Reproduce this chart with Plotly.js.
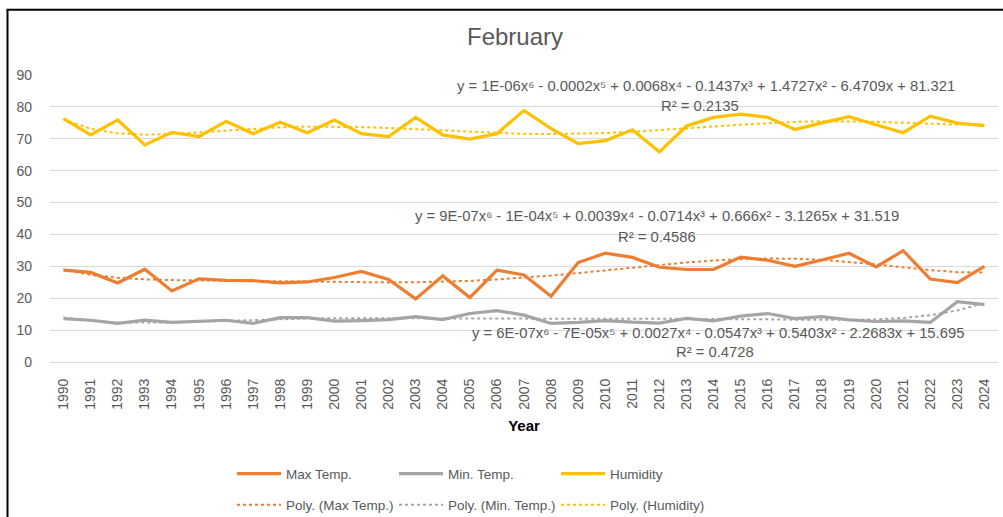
<!DOCTYPE html>
<html>
<head>
<meta charset="utf-8">
<script src="https://cdn.plot.ly/plotly-3.0.1.min.js"></script>
<style>html,body{margin:0;padding:0;background:#fff;}#chart{width:1003px;height:517px;}</style>
</head>
<body>
<div id="chart"></div>
<script>
// ---- Data ----
const years = ["1990","1991","1992","1993","1994","1995","1996","1997","1998","1999",
               "2000","2001","2002","2003","2004","2005","2006","2007","2008","2009",
               "2010","2011","2012","2013","2014","2015","2016","2017","2018","2019",
               "2020","2021","2022","2023","2024"];
const maxTemp = [28.8,28.1,24.8,29.1,22.3,26.1,25.6,25.5,24.8,25.1,
                 26.5,28.4,25.9,19.8,27.0,20.2,28.8,27.3,20.6,31.2,
                 34.1,32.8,29.7,29.0,29.0,32.9,31.9,30.0,32.0,34.1,
                 29.8,34.9,26.0,24.9,30.0];
const minTemp = [13.6,13.1,12.1,13.1,12.4,12.8,13.1,12.1,13.9,13.9,
                 12.8,13.0,13.3,14.2,13.3,15.2,16.1,14.7,12.1,12.4,
                 13.0,12.5,12.2,13.7,12.9,14.4,15.2,13.6,14.2,13.2,
                 12.7,12.9,12.4,18.9,18.0];
const humidity = [76.3,71.2,75.9,68.1,72.0,70.7,75.5,71.6,75.2,71.9,
                  75.9,71.6,70.7,76.7,71.2,69.9,71.6,78.9,73.2,68.5,
                  69.4,72.8,65.9,74.0,76.7,77.7,76.7,72.9,75.0,76.9,
                  74.4,71.9,77.1,74.9,74.1];
const seriesNames = ["Max Temp.","Min. Temp.","Humidity"];
const trendNames = ["Poly. (Max Temp.)","Poly. (Min. Temp.)","Poly. (Humidity)"];
const equations = [
  "y = 9E-07x⁶ - 1E-04x⁵ + 0.0039x⁴ - 0.0714x³ + 0.666x² - 3.1265x + 31.519",
  "y = 6E-07x⁶ - 7E-05x⁵ + 0.0027x⁴ - 0.0547x³ + 0.5403x² - 2.2683x + 15.695",
  "y = 1E-06x⁶ - 0.0002x⁵ + 0.0068x⁴ - 0.1437x³ + 1.4727x² - 6.4709x + 81.321"
];
const rSquared = ["R² = 0.4586","R² = 0.4728","R² = 0.2135"];

// ---- 6th-order least-squares trendline (as Excel's Poly. trendline) ----
function polyTrend(ys, deg){
  const n = ys.length, c = (n+1)/2, s = (n-1)/2;
  const ts = ys.map((_,i)=>((i+1)-c)/s);
  const m = deg+1;
  const A = Array.from({length:m},()=>new Array(m+1).fill(0));
  for(let i=0;i<n;i++){
    const p=[]; for(let k=0;k<m;k++) p.push(Math.pow(ts[i],k));
    for(let r=0;r<m;r++){ for(let q=0;q<m;q++) A[r][q]+=p[r]*p[q]; A[r][m]+=p[r]*ys[i]; }
  }
  for(let col=0;col<m;col++){
    let piv=col; for(let r=col+1;r<m;r++) if(Math.abs(A[r][col])>Math.abs(A[piv][col])) piv=r;
    [A[col],A[piv]]=[A[piv],A[col]];
    for(let r=0;r<m;r++){ if(r===col) continue; const f=A[r][col]/A[col][col];
      for(let q=col;q<=m;q++) A[r][q]-=f*A[col][q]; }
  }
  const coef=A.map((row,i)=>row[m]/row[i]);
  return ts.map(t=>coef.reduce((acc,cf,k)=>acc+cf*Math.pow(t,k),0));
}

const colors = ["#ED7D31","#A5A5A5","#FFC000"];
const dataSets = [maxTemp,minTemp,humidity];
const FONT = "Liberation Sans, Arial, sans-serif";
const GREY = "#595959";

const traces = [];
dataSets.forEach((d,i)=>{
  traces.push({x:years,y:d,type:"scatter",mode:"lines",name:seriesNames[i],
    line:{color:colors[i],width:3.2},legend:"legend",hoverinfo:"skip"});
});
dataSets.forEach((d,i)=>{
  traces.push({x:years,y:polyTrend(d,6),type:"scatter",mode:"lines",name:trendNames[i],
    line:{color:colors[i],width:2,dash:"dot"},legend:"legend2",hoverinfo:"skip"});
});

const L=50, R=998, T=74.7, B=362;
const px = v => (v-L)/(R-L);
const py = v => (B-v)/(B-T);

const annPos = [
  {ex:657, ey:216, rx:657, ry:237},
  {ex:718, ey:333, rx:715, ry:352},
  {ex:706, ey:86,  rx:700, ry:106}
];
const annotations=[];
annPos.forEach((p,i)=>{
  annotations.push({xref:"paper",yref:"paper",x:px(p.ex),y:py(p.ey),text:equations[i],showarrow:false,
    xanchor:"center",yanchor:"middle",font:{family:FONT,size:14.8,color:GREY}});
  annotations.push({xref:"paper",yref:"paper",x:px(p.rx),y:py(p.ry),text:rSquared[i],showarrow:false,
    xanchor:"center",yanchor:"middle",font:{family:FONT,size:14.8,color:GREY}});
});

const legendCommon = {orientation:"h",x:px(232),xanchor:"left",yanchor:"middle",itemwidth:44,
  entrywidth:103,entrywidthmode:"pixels",font:{family:FONT,size:13.5,color:GREY},
  bgcolor:"rgba(0,0,0,0)",borderwidth:0};

const layout = {
  width:1003, height:517,
  margin:{l:L, r:1003-R, t:T, b:517-B, pad:0, autoexpand:false},
  paper_bgcolor:"#fff", plot_bgcolor:"#fff",
  font:{family:FONT,color:GREY},
  title:{text:"February",font:{family:FONT,size:24,color:GREY},
         xref:"container",yref:"container",x:515/1003,y:1-37/517,xanchor:"center",yanchor:"middle"},
  xaxis:{type:"category",range:[-0.5,34.5],tickangle:-90,showgrid:false,zeroline:false,automargin:false,
         showline:true,linecolor:"#D9D9D9",linewidth:1,ticks:"",ticklabelstandoff:10,
         tickfont:{family:FONT,size:14,color:GREY},
         title:{text:"<b>Year</b>",font:{family:FONT,size:15,color:"#000"},standoff:11}},
  yaxis:{range:[0,90],dtick:10,showgrid:true,gridcolor:"#D9D9D9",gridwidth:1,zeroline:false,automargin:false,
         showline:false,ticks:"",ticklabelstandoff:17,tickfont:{family:FONT,size:14,color:GREY}},
  showlegend:true,
  legend:Object.assign({},legendCommon,{y:py(474)}),
  legend2:Object.assign({},legendCommon,{y:py(505)}),
  annotations:annotations,
  shapes:[
    {type:"line",xref:"paper",yref:"paper",x0:px(7.5),x1:px(7.5),y0:py(9.5),y1:py(530),line:{color:"#000",width:2}},
    {type:"line",xref:"paper",yref:"paper",x0:px(6.5),x1:px(1010),y0:py(9.5),y1:py(9.5),line:{color:"#000",width:2}}
  ]
};
Plotly.newPlot("chart",traces,layout,{displayModeBar:false,staticPlot:true});
</script>
</body>
</html>
